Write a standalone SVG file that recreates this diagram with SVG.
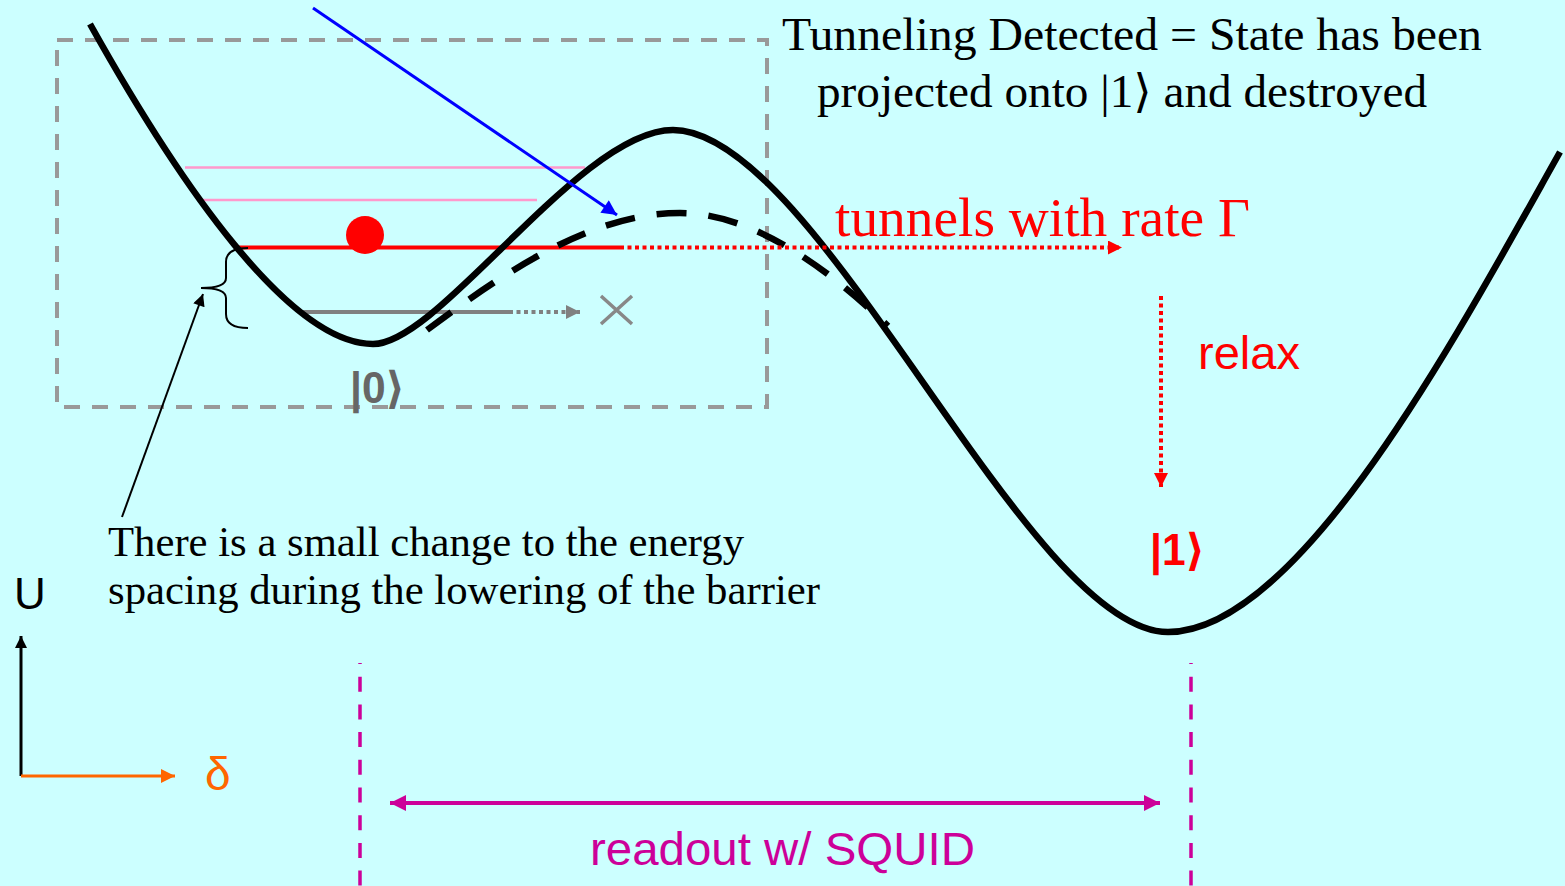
<svg xmlns="http://www.w3.org/2000/svg" width="1565" height="886" viewBox="0 0 1565 886">
<defs>
<style>
.serif{font-family:"Liberation Serif","Times New Roman","DejaVu Serif",serif}
.sans{font-family:"Liberation Sans",Arial,"DejaVu Sans",sans-serif}
.curve{fill:none;stroke:#000;stroke-width:6.5}
.dcurve{fill:none;stroke:#000;stroke-width:6.5;stroke-dasharray:30 22}
.box{fill:none;stroke:#999;stroke-width:4;stroke-dasharray:16 12}
.pink{stroke:#FF99CC;stroke-width:2.5}
.reddot{stroke:#f00;stroke-width:4;stroke-dasharray:4 3.5}
.magdash{stroke:#CC0099;stroke-width:3.5;stroke-dasharray:15 12.7}
</style>
<marker id="ahRed" viewBox="0 0 10 10" refX="10" refY="5" markerWidth="16" markerHeight="14" markerUnits="userSpaceOnUse" orient="auto"><path d="M0,0L10,5L0,10z" fill="#f00"/></marker>
<marker id="ahGray" viewBox="0 0 10 10" refX="10" refY="5" markerWidth="16" markerHeight="14" markerUnits="userSpaceOnUse" orient="auto"><path d="M0,0L10,5L0,10z" fill="#808080"/></marker>
<marker id="ahBlue" viewBox="0 0 10 10" refX="10" refY="5" markerWidth="20" markerHeight="15" markerUnits="userSpaceOnUse" orient="auto"><path d="M0,0L10,5L0,10z" fill="#00f"/></marker>
<marker id="ahBlack" viewBox="0 0 10 10" refX="10" refY="5" markerWidth="16" markerHeight="12" markerUnits="userSpaceOnUse" orient="auto"><path d="M0,0L10,5L0,10z" fill="#000"/></marker>
<marker id="ahOrange" viewBox="0 0 10 10" refX="10" refY="5" markerWidth="16" markerHeight="14" markerUnits="userSpaceOnUse" orient="auto"><path d="M0,0L10,5L0,10z" fill="#FF6600"/></marker>
<marker id="ahMag" viewBox="0 0 10 10" refX="10" refY="5" markerWidth="18" markerHeight="16" markerUnits="userSpaceOnUse" orient="auto-start-reverse"><path d="M0,0L10,5L0,10z" fill="#CC0099"/></marker>
</defs>
<rect width="1565" height="886" fill="#CCFFFF"/>

<g id="zoom-box">
<rect class="box" x="57" y="40" width="710" height="367"/>
</g>

<g id="energy-levels">
<line class="pink" x1="185" y1="167.5" x2="585" y2="167.5"/>
<line class="pink" x1="201" y1="200" x2="537" y2="200"/>
<line x1="235" y1="247.5" x2="620" y2="247.5" stroke="#f00" stroke-width="4"/>
<line x1="300" y1="312" x2="509" y2="312" stroke="#808080" stroke-width="4"/>
</g>

<g id="potential">
<path class="curve" d="M90,24 C180,185 290,344 373,344 C440,344 580,130 673,130 C818,130 1027,632 1168,632 C1300,632 1460,330 1560,152"/>
<path class="dcurve" d="M427,330 C520,260 600,213 680,213 C760,213 840,280 888,326"/>
</g>

<g id="particle">
<circle cx="365" cy="235" r="19" fill="#f00"/>
</g>

<g id="connectors">
<line class="reddot" x1="620" y1="247.5" x2="1122" y2="247.5" marker-end="url(#ahRed)"/>
<line x1="509" y1="312" x2="580" y2="312" stroke="#808080" stroke-width="4" stroke-dasharray="4 3.5" marker-end="url(#ahGray)"/>
<line class="reddot" x1="1161" y1="296" x2="1161" y2="487" marker-end="url(#ahRed)"/>
<line x1="313" y1="8" x2="617" y2="215" stroke="#00f" stroke-width="3" marker-end="url(#ahBlue)"/>
<line x1="122" y1="517" x2="203" y2="294" stroke="#000" stroke-width="2" marker-end="url(#ahBlack)"/>
<line x1="21" y1="776" x2="21" y2="636" stroke="#000" stroke-width="3" marker-end="url(#ahBlack)"/>
<line x1="21" y1="776" x2="175" y2="776" stroke="#FF6600" stroke-width="3" marker-end="url(#ahOrange)"/>
<line class="magdash" x1="360" y1="663" x2="360" y2="886" stroke-dashoffset="14"/>
<line class="magdash" x1="1191" y1="663" x2="1191" y2="886" stroke-dashoffset="14"/>
<line x1="390" y1="803" x2="1160" y2="803" stroke="#CC0099" stroke-width="4" marker-start="url(#ahMag)" marker-end="url(#ahMag)"/>
</g>

<g id="blocked-mark">
<path d="M601,296 L632,324 M632,296 L601,324" stroke="#888" stroke-width="3.5" fill="none"/>
</g>

<g id="brace">
<path d="M248,248 Q226,248 226,262 L226,278 Q226,288 201,288 Q226,288 226,298 L226,314 Q226,328 248,328" fill="none" stroke="#000" stroke-width="2"/>
</g>

<g id="labels">
<text class="serif" x="782" y="50" font-size="46" textLength="700" lengthAdjust="spacingAndGlyphs">Tunneling Detected = State has been</text>
<text class="serif" x="817" y="107" font-size="46" textLength="610" lengthAdjust="spacingAndGlyphs">projected onto |1⟩ and destroyed</text>
<text class="serif" x="835" y="236" font-size="54" fill="#f00" textLength="415" lengthAdjust="spacingAndGlyphs">tunnels with rate Γ</text>
<text class="sans" x="1198" y="369" font-size="46" fill="#f00" textLength="102" lengthAdjust="spacingAndGlyphs">relax</text>
<text class="sans" x="1150" y="565" font-size="44" font-weight="bold" fill="#f00" textLength="55" lengthAdjust="spacingAndGlyphs">|1⟩</text>
<text class="sans" x="350" y="403" font-size="44" font-weight="bold" fill="#666" textLength="55" lengthAdjust="spacingAndGlyphs">|0⟩</text>
<text class="serif" x="108" y="556" font-size="42" textLength="636" lengthAdjust="spacingAndGlyphs">There is a small change to the energy</text>
<text class="serif" x="108" y="604" font-size="42" textLength="712" lengthAdjust="spacingAndGlyphs">spacing during the lowering of the barrier</text>
<text class="sans" x="14" y="609" font-size="44">U</text>
<text class="sans" x="205" y="790" font-size="46" fill="#FF6600">δ</text>
<text class="sans" x="590" y="865" font-size="46" fill="#CC0099" textLength="385" lengthAdjust="spacingAndGlyphs">readout w/ SQUID</text>
</g>
</svg>
